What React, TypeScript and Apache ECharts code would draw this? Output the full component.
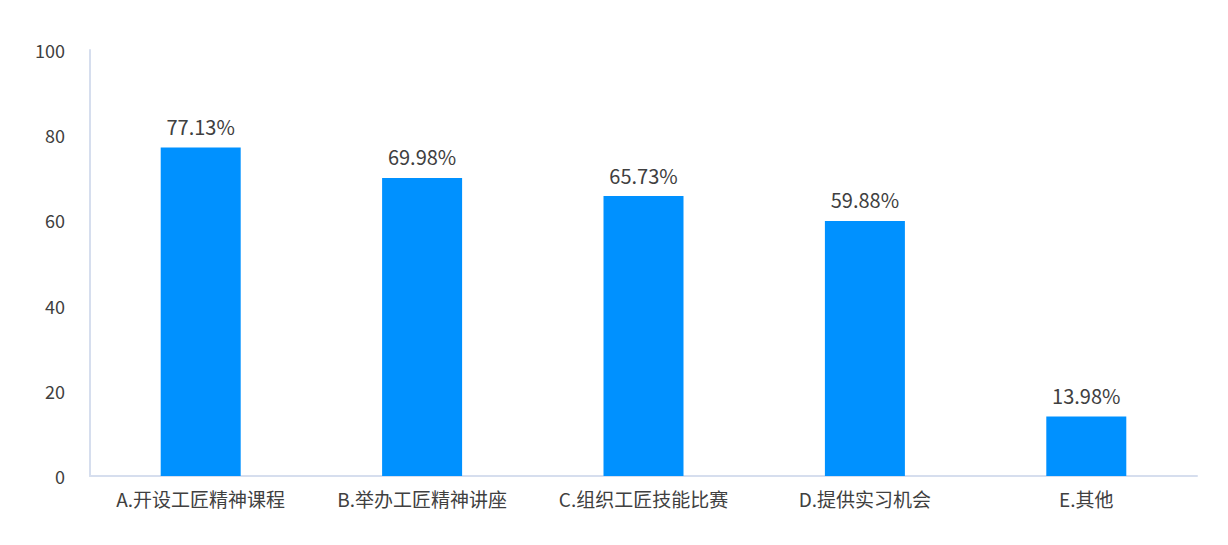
import React, { useEffect, useRef } from "react";
import * as echarts from "echarts";

const categories = [
  "A.开设工匠精神课程",
  "B.举办工匠精神讲座",
  "C.组织工匠技能比赛",
  "D.提供实习机会",
  "E.其他",
];
const values = [77.13, 69.98, 65.73, 59.88, 13.98];
const yMin = 0;
const yMax = 100;
const yInterval = 20;

const FONT = '"Noto Sans CJK SC", "Noto Sans", sans-serif';

export default function App() {
  const ref = useRef<HTMLDivElement>(null);
  useEffect(() => {
    if (!ref.current) return;
    const chart = echarts.init(ref.current, null, { renderer: "svg" });
    chart.setOption({
      animation: false,
      grid: { left: 90, right: 31, top: 50, bottom: 69 },
      xAxis: {
        type: "category",
        data: categories,
        axisLine: { show: true, lineStyle: { color: "#D6DEEE", width: 2 } },
        axisTick: { show: false },
        axisLabel: {
          color: "#404040",
          fontSize: 19,
          fontFamily: FONT,
          margin: 13,
        },
      },
      yAxis: {
        type: "value",
        min: yMin,
        max: yMax,
        interval: yInterval,
        axisLine: { show: true, lineStyle: { color: "#D6DEEE", width: 2 } },
        axisTick: { show: false },
        splitLine: { show: false },
        axisLabel: {
          color: "#404040",
          fontSize: 18,
          fontFamily: FONT,
          margin: 25,
        },
      },
      series: [
        {
          type: "bar",
          data: values,
          barWidth: 80,
          itemStyle: { color: "#0091FF" },
          label: {
            show: true,
            position: "top",
            distance: 11,
            formatter: (p: any) => p.value.toFixed(2) + "%",
            color: "#404040",
            fontSize: 20,
            fontFamily: FONT,
          },
        },
      ],
    });
    return () => chart.dispose();
  }, []);
  return (
    <div
      ref={ref}
      style={{ position: "absolute", left: 0, top: 0, width: 1228, height: 545, background: "#fff" }}
    />
  );
}
